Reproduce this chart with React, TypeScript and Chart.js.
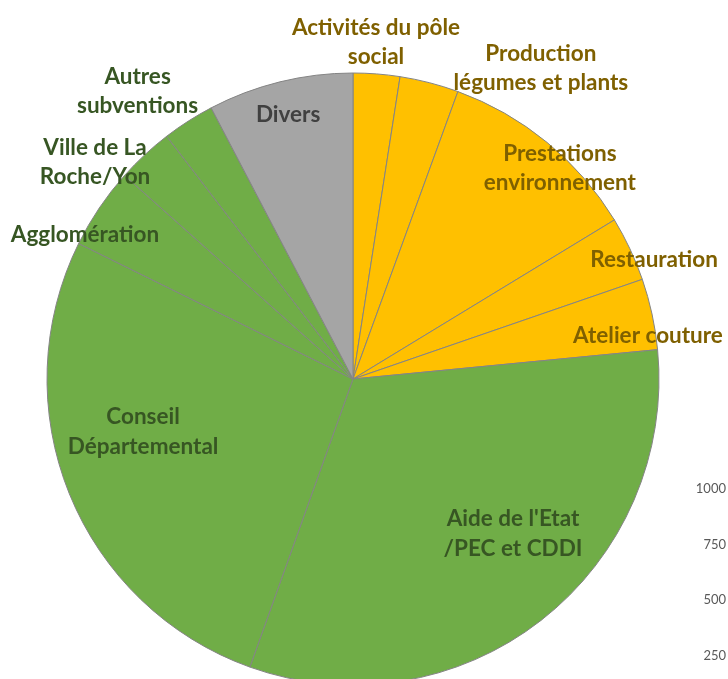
import React, { useEffect, useRef } from "react";
import { Chart, registerables } from "chart.js";

Chart.register(...registerables);

const categories: string[][] = [
  ["Activités du pôle", "social"],
  ["Production", "légumes et plants"],
  ["Prestations", "environnement"],
  ["Restauration"],
  ["Atelier couture"],
  ["Aide de l'Etat", "/PEC et CDDI"],
  ["Conseil", "Départemental"],
  ["Agglomération"],
  ["Ville de La", "Roche/Yon"],
  ["Autres", "subventions"],
  ["Divers"],
];

const values: number[] = [2.46, 3.11, 10.73, 3.42, 3.75, 32.0, 26.83, 4.28, 3.0, 2.75, 7.67];

const sliceColors: string[] = [
  "#FFC000", "#FFC000", "#FFC000", "#FFC000", "#FFC000",
  "#70AD47", "#70AD47", "#70AD47", "#70AD47", "#70AD47",
  "#A5A5A5",
];

const labelColors: string[] = [
  "#7F6000", "#7F6000", "#7F6000", "#7F6000", "#7F6000",
  "#375623", "#375623", "#375623", "#375623", "#375623",
  "#404040",
];

// label centre offsets, as fractions of the pie radius (x right, y down)
const labelOffsets: [number, number][] = [
  [0.075, -1.101],
  [0.614, -1.016],
  [0.676, -0.688],
  [0.984, -0.389],
  [0.964, -0.141],
  [0.523, 0.505],
  [-0.686, 0.172],
  [-0.876, -0.471],
  [-0.843, -0.708],
  [-0.704, -0.94],
  [-0.212, -0.863],
];

const axisTicks: string[] = ["1000", "750", "500", "250"];

const labelPlugin = {
  id: "sliceLabels",
  afterDatasetsDraw(chart: any) {
    const arc = chart.getDatasetMeta(0).data[0];
    if (!arc) return;
    const { x, y, outerRadius } = arc.getProps(["x", "y", "outerRadius"], true);
    const ctx = chart.ctx;
    ctx.save();
    ctx.font = "bold 22.5px Lato";
    ctx.textAlign = "center";
    ctx.textBaseline = "middle";
    const lh = 29.5;
    categories.forEach((lines, i) => {
      const [fx, fy] = labelOffsets[i];
      const cx = x + fx * outerRadius;
      const cy = y + fy * outerRadius;
      ctx.fillStyle = labelColors[i];
      const n = lines.length;
      lines.forEach((t, j) => {
        ctx.fillText(t, cx, cy + (j - (n - 1) / 2) * lh);
      });
    });
    ctx.restore();
  },
};

export default function App() {
  const ref = useRef<HTMLCanvasElement | null>(null);
  useEffect(() => {
    document.body.style.margin = "0";
    if (!ref.current) return;
    const chart = new Chart(ref.current, {
      type: "pie",
      data: {
        labels: categories.map((c) => c.join(" ")),
        datasets: [
          {
            data: values,
            backgroundColor: sliceColors,
            borderColor: "#848484",
            borderWidth: 1,
            hoverOffset: 0,
          },
        ],
      },
      options: {
        responsive: false,
        animation: false,
        radius: 306,
        layout: { padding: { left: 0, right: 30, top: 0, bottom: 0 } },
        plugins: {
          legend: { display: false },
          tooltip: { enabled: false },
        },
      } as any,
      plugins: [labelPlugin],
    });
    return () => chart.destroy();
  }, []);

  return (
    <div style={{ position: "relative", width: 728, height: 679, overflow: "hidden" }}>
      <canvas ref={ref} width={720} height={742} style={{ position: "absolute", left: 8, top: 8 }} />
      {axisTicks.map((t, i) => (
        <div
          key={t}
          style={{
            position: "absolute",
            right: 2,
            top: 480 + i * 55.5,
            fontFamily: "Lato, sans-serif",
            fontSize: 13,
            lineHeight: "16px",
            color: "#595959",
            textAlign: "right",
          }}
        >
          {t}
        </div>
      ))}
    </div>
  );
}
